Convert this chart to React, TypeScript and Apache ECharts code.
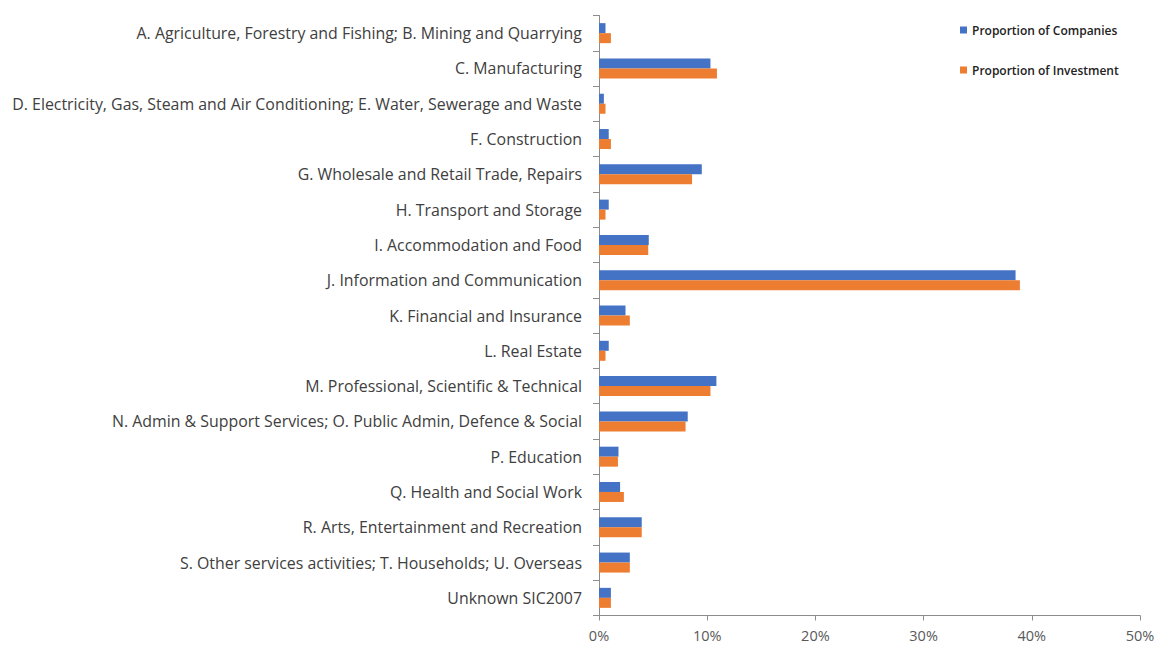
import React, { useEffect, useRef } from "react";
import * as echarts from "echarts";

const categories = [
  "A. Agriculture, Forestry and Fishing; B. Mining and Quarrying",
  "C. Manufacturing",
  "D. Electricity, Gas, Steam and Air Conditioning; E. Water, Sewerage and Waste",
  "F. Construction",
  "G. Wholesale and Retail Trade, Repairs",
  "H. Transport and Storage",
  "I. Accommodation and Food",
  "J. Information and Communication",
  "K. Financial and Insurance",
  "L. Real Estate",
  "M. Professional, Scientific & Technical",
  "N. Admin & Support Services; O. Public Admin, Defence & Social",
  "P. Education",
  "Q. Health and Social Work",
  "R. Arts, Entertainment and Recreation",
  "S. Other services activities; T. Households; U. Overseas",
  "Unknown SIC2007",
];

const companies = [0.6, 10.3, 0.45, 0.9, 9.5, 0.9, 4.6, 38.5, 2.45, 0.9, 10.85, 8.2, 1.8, 1.95, 3.95, 2.85, 1.1];
const investment = [1.1, 10.9, 0.6, 1.1, 8.6, 0.6, 4.55, 38.9, 2.85, 0.6, 10.3, 8.0, 1.75, 2.3, 3.95, 2.85, 1.1];

const seriesNames = ["Proportion of Companies", "Proportion of Investment"];
const colors = ["#4472C4", "#ED7D31"];

export default function App() {
  const ref = useRef<HTMLDivElement>(null);
  useEffect(() => {
    const chart = echarts.init(ref.current!, undefined, { renderer: "svg" });
    const font = "Open Sans, Noto Sans, sans-serif";
    chart.setOption({
      animation: false,
      textStyle: { fontFamily: font },
      legend: {
        orient: "vertical",
        left: 955,
        top: 19,
        itemGap: 28,
        itemWidth: 7,
        itemHeight: 7,
        icon: "rect",
        textStyle: { fontSize: 12, color: "#222", fontWeight: 600, fontFamily: font },
        data: seriesNames,
      },
      grid: { left: 599, right: 15, top: 15.5, bottom: 29.5, containLabel: false, outerBoundsMode: "none" },
      xAxis: {
        type: "value",
        min: 0,
        max: 50,
        interval: 10,
        axisLine: { show: true, lineStyle: { color: "#8c8c8c" } },
        axisTick: { show: true, length: 5, lineStyle: { color: "#8c8c8c" } },
        splitLine: { show: false },
        axisLabel: { formatter: "{value}%", fontSize: 14.5, color: "#595959", margin: 12, fontFamily: font },
      },
      yAxis: {
        type: "category",
        inverse: true,
        data: categories,
        axisLine: { show: true, lineStyle: { color: "#8c8c8c" } },
        axisTick: { show: true, length: 6, lineStyle: { color: "#8c8c8c" } },
        axisLabel: { fontSize: 15.9, color: "#404040", margin: 17, fontFamily: font },
      },
      series: [
        {
          name: seriesNames[0],
          type: "bar",
          data: companies,
          barWidth: 10,
          barGap: "0%",
          itemStyle: { color: colors[0] },
        },
        {
          name: seriesNames[1],
          type: "bar",
          data: investment,
          barWidth: 10,
          barGap: "0%",
          itemStyle: { color: colors[1] },
        },
      ],
    });
    return () => chart.dispose();
  }, []);
  return (
    <div
      ref={ref}
      style={{ position: "absolute", left: 0, top: 0, width: 1155, height: 645 }}
    />
  );
}
